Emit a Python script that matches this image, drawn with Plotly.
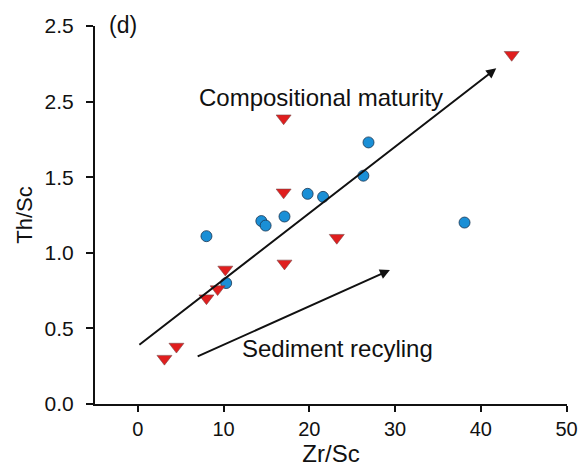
import plotly.graph_objects as go

# Blue circles
circle_x = [8.0, 14.4, 14.9, 17.1, 19.8, 21.6, 26.3, 26.9, 38.1, 10.3]
circle_y = [1.11, 1.21, 1.18, 1.24, 1.39, 1.37, 1.51, 1.73, 1.20, 0.80]

# Red down-triangles
tri_x = [43.6, 17.0, 17.0, 23.2, 17.1, 10.2, 9.3, 8.0, 4.5, 3.1]
tri_y = [2.31, 1.89, 1.40, 1.10, 0.93, 0.89, 0.76, 0.70, 0.38, 0.30]

# Trend arrows (start -> end)
comp_arrow = [(0.0, 0.384), (41.8, 2.22)]
sed_arrow = [(6.8, 0.31), (29.4, 0.886)]

x_ticks = [0, 10, 20, 30, 40, 50]
y_tickvals = [0.0, 0.5, 1.0, 1.5, 2.0, 2.5]
y_ticktext = ["0.0", "0.5", "1.0", "1.5", "2.5", "2.5"]

FONT = "Liberation Sans, Arial, sans-serif"

fig = go.Figure()
fig.add_trace(go.Scatter(
    x=circle_x, y=circle_y, mode="markers",
    marker=dict(symbol="circle", size=11, color="#1A8FD6",
                line=dict(color="#1a3550", width=0.8)),
    showlegend=False))
fig.add_trace(go.Scatter(
    x=tri_x, y=tri_y, mode="markers",
    marker=dict(symbol="triangle-down", size=13, color="#E01E1E",
                line=dict(color="#7a4a4a", width=0.6)),
    showlegend=False))

for (x0, y0), (x1, y1) in [comp_arrow, sed_arrow]:
    fig.add_annotation(x=x1, y=y1, ax=x0, ay=y0, xref="x", yref="y",
                       axref="x", ayref="y", showarrow=True, text="",
                       arrowhead=2, arrowsize=1.0, arrowwidth=2,
                       arrowcolor="#111111", standoff=0, startstandoff=0)

fig.add_annotation(x=21.4, y=2.03, xref="x", yref="y", text="Compositional maturity",
                   showarrow=False, font=dict(size=24, color="#111111", family=FONT))
fig.add_annotation(x=23.3, y=0.37, xref="x", yref="y", text="Sediment recyling",
                   showarrow=False, font=dict(size=24, color="#111111", family=FONT))
fig.add_annotation(x=0.0, y=1.0, xref="paper", yref="paper", text="(d)",
                   xanchor="left", yanchor="middle", xshift=12, yshift=1,
                   showarrow=False, font=dict(size=23, color="#111111", family=FONT))

fig.update_xaxes(range=[-5, 50.05], tickvals=x_ticks, ticks="outside", ticklen=6,
                 tickwidth=2, tickcolor="#111111", showline=True, linecolor="#111111",
                 linewidth=2, showgrid=False, zeroline=False, automargin=False,
                 tickfont=dict(size=20, color="#111111", family=FONT),
                 title=dict(text="Zr/Sc", font=dict(size=24, color="#111111", family=FONT),
                            standoff=2))
fig.update_yaxes(range=[0, 2.5], tickvals=y_tickvals, ticktext=y_ticktext,
                 ticks="outside", ticklen=7, tickwidth=2, tickcolor="#111111",
                 showline=True, linecolor="#111111", linewidth=2, showgrid=False,
                 zeroline=False, ticklabelstandoff=8, automargin=False,
                 tickfont=dict(size=21, color="#111111", family=FONT),
                 title=dict(text="Th/Sc", font=dict(size=22, color="#111111", family=FONT),
                            standoff=6))

fig.update_layout(width=578, height=467, plot_bgcolor="white", paper_bgcolor="white",
                  margin=dict(l=95, r=11, t=26, b=63))

fig.write_html("out.html")
